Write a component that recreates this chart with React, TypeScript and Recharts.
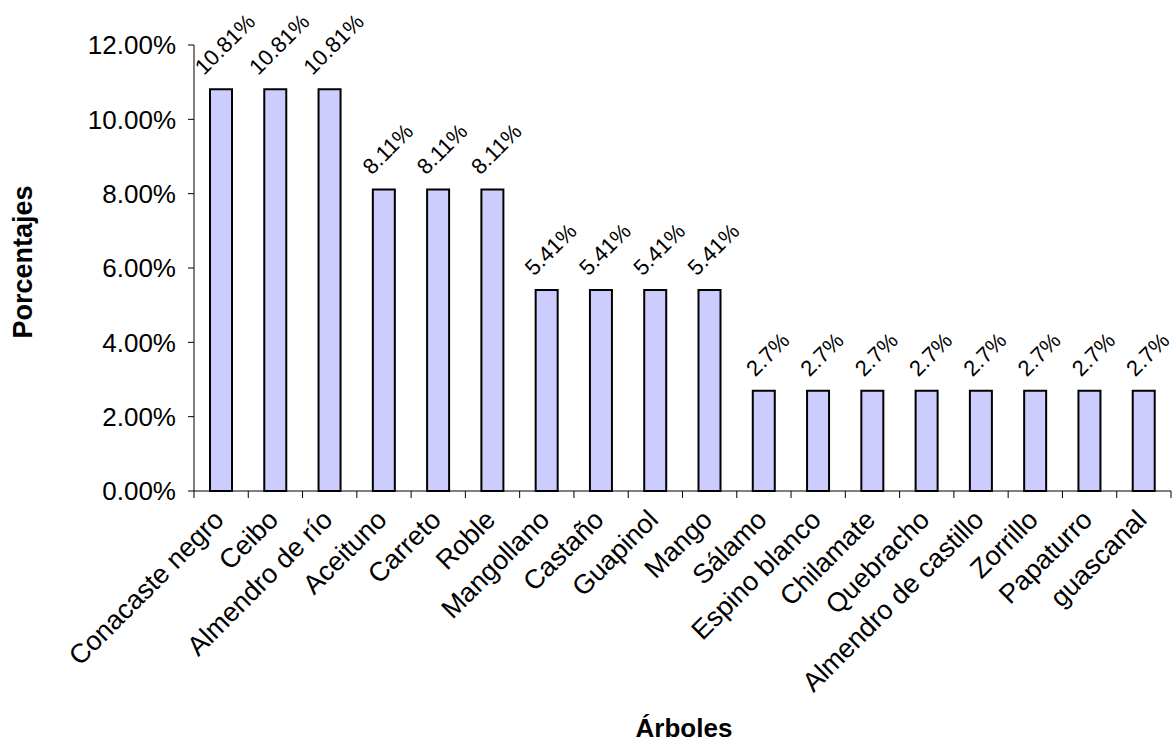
import React from 'react';
import { BarChart, Bar, XAxis, YAxis, LabelList, Label } from 'recharts';

const categories = [
  'Conacaste negro', 'Ceibo', 'Almendro de río', 'Aceituno', 'Carreto', 'Roble',
  'Mangollano', 'Castaño', 'Guapinol', 'Mango', 'Sálamo', 'Espino blanco',
  'Chilamate', 'Quebracho', 'Almendro de castillo', 'Zorrillo', 'Papaturro', 'guascanal',
];
const percentages = [
  10.81, 10.81, 10.81, 8.11, 8.11, 8.11, 5.41, 5.41, 5.41, 5.41,
  2.7, 2.7, 2.7, 2.7, 2.7, 2.7, 2.7, 2.7,
];
const yTicks = [0, 2, 4, 6, 8, 10, 12];

const data = categories.map((name, i) => ({ name, value: percentages[i] }));

const FONT = '"Liberation Sans", Arial, sans-serif';

const XTick = (props: any) => {
  const { x, y, payload, index, visibleTicksCount } = props;
  const half = payload && typeof payload.offset === 'number' && payload.offset > 0 ? payload.offset : 27;
  const lx = x - 2;
  const ly = y + 16;
  return (
    <g>
      <line x1={x - half} y1={y - 8} x2={x - half} y2={y - 1} stroke="#000" strokeWidth={1} />
      {index === (visibleTicksCount ?? 18) - 1 && (
        <line x1={x + half} y1={y - 8} x2={x + half} y2={y - 1} stroke="#000" strokeWidth={1} />
      )}
      <text
        x={lx}
        y={ly}
        transform={`rotate(-45, ${lx}, ${ly})`}
        textAnchor="end"
        dominantBaseline="central"
        fontFamily={FONT}
        fontSize={27}
        fill="#000"
      >
        {payload.value}
      </text>
    </g>
  );
};

const ValueLabel = (props: any) => {
  const { x, y, width, value } = props;
  const fs = 22;
  const s = String(value) + '%';
  const L = s.length * 0.56 * fs;
  const h = 0.75 * fs;
  const cx = Number(x) + Number(width) / 2 + 4;
  const cy = Number(y) - 13 - (L + h) * 0.3535;
  return (
    <text
      x={cx}
      y={cy}
      transform={`rotate(-45, ${cx}, ${cy})`}
      textAnchor="middle"
      dominantBaseline="central"
      fontFamily={FONT}
      fontSize={fs}
      fill="#000"
    >
      {s}
    </text>
  );
};

export default function App() {
  return (
    <div style={{ position: 'absolute', left: 0, top: 0, width: 1174, height: 742, background: '#fff' }}>
      <BarChart
        width={1174}
        height={742}
        data={data}
        margin={{ top: 45, right: 3, left: 0, bottom: 0 }}
        barCategoryGap={0}
      >
        <XAxis
          dataKey="name"
          height={251}
          interval={0}
          tickLine={false}
          axisLine={{ stroke: '#000', strokeWidth: 1 }}
          tick={<XTick />}
        >
          <Label
            content={() => (
              <text x={684} y={737} textAnchor="middle" fontFamily={FONT} fontSize={26} fontWeight="bold" fill="#000">
                Árboles
              </text>
            )}
          />
        </XAxis>
        <YAxis
          width={194}
          domain={[0, 12]}
          ticks={yTicks}
          interval={0}
          tickSize={6}
          tickMargin={12}
          tickFormatter={(v: number) => v.toFixed(2) + '%'}
          tick={{ fontFamily: FONT, fontSize: 26, fill: '#000' }}
          tickLine={{ stroke: '#000' }}
          axisLine={{ stroke: '#000', strokeWidth: 1 }}
        >
          <Label
            content={() => (
              <text
                x={23}
                y={262}
                transform="rotate(-90, 23, 262)"
                textAnchor="middle"
                dominantBaseline="central"
                fontFamily={FONT}
                fontSize={27}
                fontWeight="bold"
                fill="#000"
              >
                Porcentajes
              </text>
            )}
          />
        </YAxis>
        <Bar dataKey="value" fill="#CCCCFF" stroke="#000" strokeWidth={2} barSize={22} isAnimationActive={false}>
          <LabelList dataKey="value" content={<ValueLabel />} />
        </Bar>
      </BarChart>
    </div>
  );
}
